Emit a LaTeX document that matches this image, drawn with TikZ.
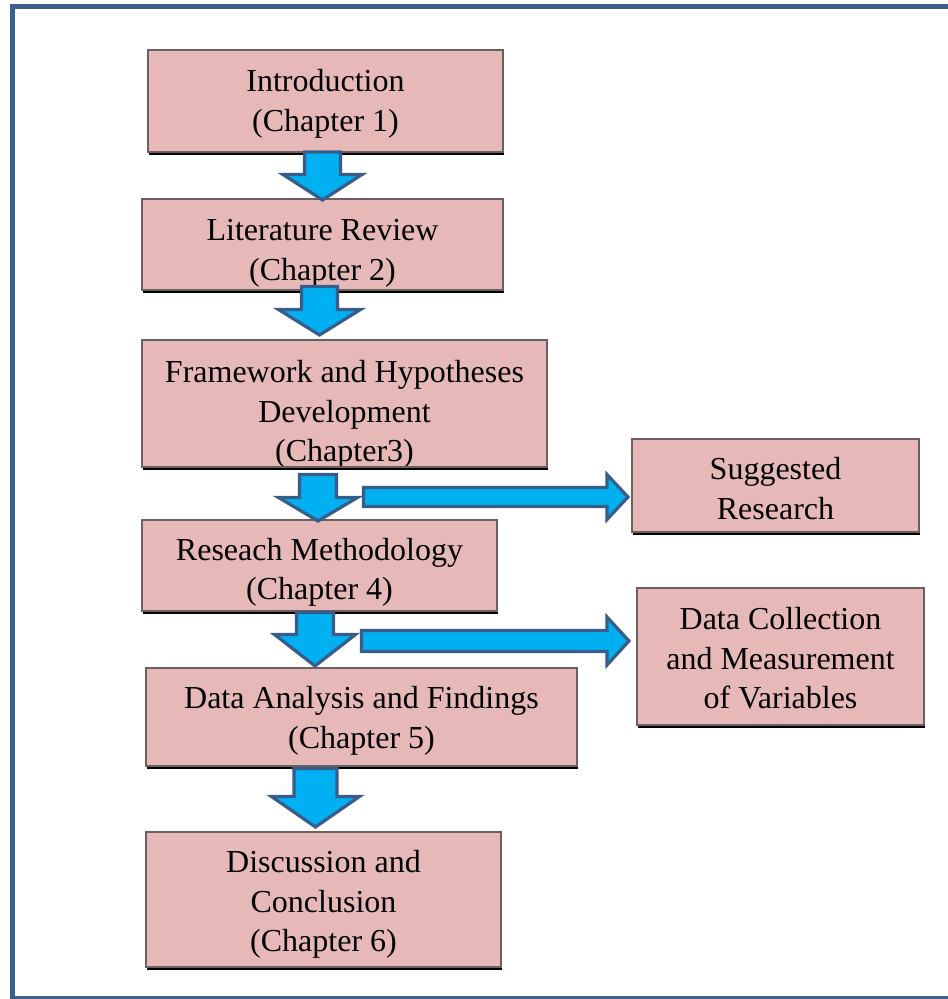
\documentclass[tikz,border=0pt]{standalone}
\usepackage{fontspec}
\setmainfont{Liberation Serif}
\usetikzlibrary{shadows}
\definecolor{boxfill}{HTML}{E6B9B8}
\definecolor{boxline}{HTML}{6A6060}
\definecolor{arrfill}{HTML}{00B0F0}
\definecolor{arrline}{HTML}{385D8A}
\definecolor{framec}{HTML}{3B5F8E}
\newcommand\dnarrow[6]{\draw[blockarrow] ({#1-#2},#3) -- ({#1+#2},#3) -- ({#1+#2},#4) -- ({#1+#6},#4) -- (#1,#5) -- ({#1-#6},#4) -- ({#1-#2},#4) -- cycle;}
\newcommand\rtarrow[6]{\draw[blockarrow] (#3,{#1-#2}) -- (#3,{#1+#2}) -- (#4,{#1+#2}) -- (#4,{#1+#6}) -- (#5,#1) -- (#4,{#1-#6}) -- (#4,{#1-#2}) -- cycle;}
% box with clipped text: #1 name, #2 shift down, #3 text
\tikzset{
  chtext/.style={inner sep=0pt, align=center, font=\fontsize{32}{39.5}\selectfont},
  boxtext/.style n args={3}{path picture={\node[chtext] (#1) at ([yshift=-#2pt]path picture bounding box.center) {#3};}}
}
\begin{document}
\begin{tikzpicture}[x=1pt,y=-1pt,
  chbox/.style={draw=boxline, fill=boxfill, line width=1.3pt, inner sep=0pt,
    drop shadow={shadow xshift=1pt, shadow yshift=-3pt, fill=black, opacity=1}},
  blockarrow/.style={draw=arrline, fill=arrfill, line width=3.2pt, line join=miter}]
\useasboundingbox (0,0) rectangle (948,999);
\draw[framec, line width=4.5pt] (960,6.5) -- (12.5,6.5) -- (12.5,998) -- (960,998);

\node[chbox, minimum width=355pt, minimum height=102pt, boxtext={introT}{3}{Introduction\\(Chapter 1)}] (intro) at (325.5,101) {};
\node[chbox, minimum width=361pt, minimum height=91pt, boxtext={litT}{9}{Literature Review\\(Chapter 2)}] (lit) at (322.5,244.5) {};
\node[chbox, minimum width=405pt, minimum height=127pt, boxtext={frameT}{11}{Framework and Hypotheses\\Development\\(Chapter3)}] (frame) at (344.5,403.5) {};
\node[chbox, minimum width=355pt, minimum height=91pt, boxtext={methT}{7}{Reseach Methodology\\(Chapter 4)}] (meth) at (319.5,565.5) {};
\node[chbox, minimum width=431pt, minimum height=98pt, boxtext={analT}{4}{Data Analysis and Findings\\(Chapter 5)}] (anal) at (361.5,717) {};
\node[chbox, minimum width=355pt, minimum height=135pt, boxtext={discT}{5}{Discussion and\\Conclusion\\(Chapter 6)}] (disc) at (323.5,899.5) {};
\node[chbox, minimum width=287pt, minimum height=93pt, boxtext={suggT}{3}{Suggested\\Research}] (sugg) at (775.5,485.5) {};
\node[chbox, minimum width=287pt, minimum height=137pt, boxtext={collT}{2}{Data Collection\\and Measurement\\of Variables}] (coll) at (780.5,656.5) {};

\dnarrow{322.5}{18}{152}{174.5}{200}{39.5}
\dnarrow{319.5}{18}{286.5}{309.5}{335}{41}
\dnarrow{318}{18.5}{474.5}{497.5}{521}{39.5}
\dnarrow{315}{18.5}{612.5}{634.5}{666}{40.5}
\dnarrow{315.5}{21.5}{768.5}{796.5}{827}{44}
\rtarrow{497}{9.5}{363.5}{607}{628}{22.5}
\rtarrow{641}{10.5}{361.5}{607}{629}{24}
\end{tikzpicture}
\end{document}
